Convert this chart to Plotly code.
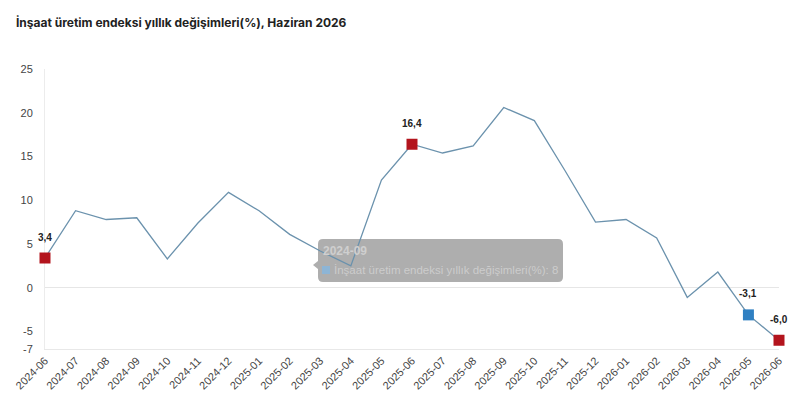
import plotly.graph_objects as go

months = ["2024-06","2024-07","2024-08","2024-09","2024-10","2024-11","2024-12",
          "2025-01","2025-02","2025-03","2025-04","2025-05","2025-06","2025-07",
          "2025-08","2025-09","2025-10","2025-11","2025-12","2026-01","2026-02",
          "2026-03","2026-04","2026-05","2026-06"]
values = [3.4, 8.8, 7.8, 8.0, 3.3, 7.4, 10.9, 8.8, 6.1, 4.2, 2.5, 12.3, 16.4, 15.4,
          16.2, 20.6, 19.1, 13.4, 7.5, 7.8, 5.7, -1.1, 1.8, -3.1, -6.0]

# highlighted points
hl_months = ["2024-06", "2025-06", "2026-05", "2026-06"]
hl_values = [3.4, 16.4, -3.1, -6.0]
hl_labels = ["3,4", "16,4", "-3,1", "-6,0"]
hl_colors = ["#b3141d", "#b3141d", "#2f80c2", "#b3141d"]

y_ticks = [-7, -5, 0, 5, 10, 15, 20, 25]
y_tick_labels = ["-7", "-5", "0", "5", "10", "15", "20", "25"]

series_name = "İnşaat üretim endeksi yıllık değişimleri(%)"
title_text = "İnşaat üretim endeksi yıllık değişimleri(%), Haziran 2026"
tooltip_month = "2024-09"
tooltip_value = "8"

fig = go.Figure()
fig.add_trace(go.Scatter(
    x=months, y=values, mode="lines",
    line=dict(color="#6b92ad", width=1.3),
    name=series_name, showlegend=False, hoverinfo="skip"))
fig.add_trace(go.Scatter(
    x=hl_months, y=hl_values, mode="markers",
    marker=dict(symbol="square", size=11, color=hl_colors),
    showlegend=False, hoverinfo="skip", cliponaxis=False))

for m, v, t in zip(hl_months, hl_values, hl_labels):
    fig.add_annotation(x=m, y=v, text="<b>%s</b>" % t, showarrow=False,
                       yshift=21, font=dict(size=10, color="#222", family="Liberation Sans, Arial"))

# page body has an 8px margin; compensate so the screen layout matches
OFF = 8
FW, FH = 807 - OFF, 410 - OFF
# plot area in screen pixels
L, W, T, H = 45, 734, 69, 280
def px(x): return (x - L) / W
def py(y): return (T + H - y) / H

# tooltip overlay (hover artifact in reference)
x0, x1, y0, y1 = 318, 563, 239, 282
r = 5
path = ("M {a},{b} L {c},{b} Q {d},{b} {d},{e} L {d},{f} Q {d},{g} {c},{g} "
        "L {a},{g} Q {h},{g} {h},{f} L {h},{k1} L {tip},{k2} L {h},{k3} L {h},{e} Q {h},{b} {a},{b} Z").format(
    a=px(x0 + r), b=py(y0), c=px(x1 - r), d=px(x1), e=py(y0 + r), f=py(y1 - r),
    g=py(y1), h=px(x0), k1=py(269), tip=px(313), k2=py(265), k3=py(261))
fig.add_shape(type="path", path=path, xref="paper", yref="paper",
              fillcolor="rgba(120,120,120,0.6)", line=dict(width=0), layer="below")
fig.add_shape(type="rect", xref="paper", yref="paper",
              x0=px(322), x1=px(330), y0=py(274), y1=py(266),
              fillcolor="#8db5d6", line=dict(width=0))
fig.add_annotation(xref="paper", yref="paper", x=px(321), y=py(251), xanchor="left",
                   yanchor="middle", showarrow=False, text="<b>%s</b>" % tooltip_month,
                   font=dict(size=12, color="#cfcfcf", family="Liberation Sans, Arial"))
fig.add_annotation(xref="paper", yref="paper", x=px(332), y=py(270), xanchor="left",
                   yanchor="middle", showarrow=False,
                   text="%s: %s" % (series_name, tooltip_value),
                   font=dict(size=11.5, color="#cccccc", family="Liberation Sans, Arial"))

fig.update_layout(
    width=FW, height=FH,
    margin=dict(l=L - OFF, r=FW - (L - OFF) - W, t=T - OFF, b=FH - (T - OFF) - H,
                autoexpand=False),
    paper_bgcolor="white", plot_bgcolor="white",
    title=dict(text="<b>%s</b>" % title_text, xref="container", yref="container",
               x=(16 - OFF) / FW, y=1 - (23 - OFF) / FH, xanchor="left", yanchor="middle",
               font=dict(size=12, color="#222", family="Inter, Liberation Sans, Arial")),
    font=dict(family="Liberation Sans, Arial", size=11, color="#444"),
    xaxis=dict(type="category", categoryorder="array", categoryarray=months,
               range=[0, len(months) - 1], tickangle=-45, showgrid=False,
               showline=True, linecolor="#e8e8e8", linewidth=1, zeroline=False,
               tickfont=dict(size=11, color="#444"), ticks="", automargin=False,
               layer="below traces"),
    yaxis=dict(range=[y_ticks[0], y_ticks[-1]], tickvals=y_ticks, ticktext=y_tick_labels,
               showgrid=False, zeroline=True, zerolinecolor="#e6e6e6", zerolinewidth=1,
               showline=True, linecolor="#ececec", linewidth=1,
               ticks="outside", ticklen=9, tickcolor="rgba(0,0,0,0)",
               tickfont=dict(size=11, color="#444"), automargin=False,
               layer="below traces"),
)

fig.write_html("out.html")
